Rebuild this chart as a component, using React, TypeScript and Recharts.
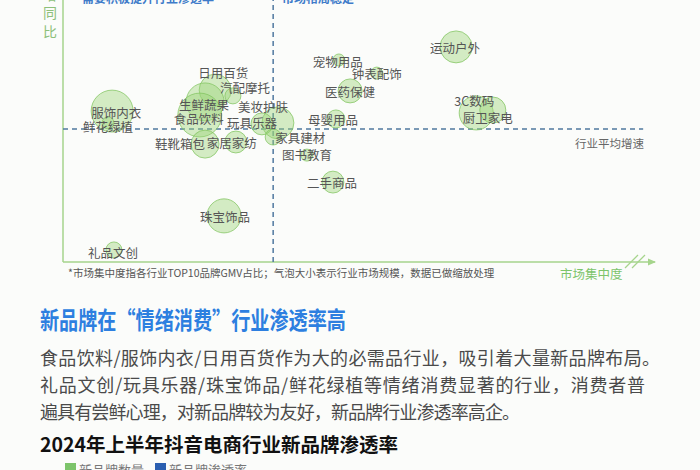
import React from 'react';
import { ScatterChart, Scatter, XAxis, YAxis, ZAxis, ReferenceLine } from 'recharts';

// ---- data ----
const categories = [
  '服饰内衣', '鲜花绿植', '日用百货', '汽配摩托', '生鲜蔬果', '食品饮料', '美妆护肤', '玩具乐器',
  '鞋靴箱包', '家居家纺', '家具建材', '图书教育', '二手商品', '珠宝饰品', '礼品文创', '宠物用品',
  '钟表配饰', '医药保健', '母婴用品', '运动户外', '3C数码', '厨卫家电',
];
// market concentration (x, index 0-100)
const concentration = [8.3, 7.6, 25.7, 28.7, 24.0, 23.1, 36.3, 33.6, 24.0, 29.2, 35.5, 41.2, 45.6, 27.2, 8.6, 46.6, 53.0, 48.5, 46.1, 66.4, 69.8, 72.6];
// growth (y, index 0-100)
const growth = [57.6, 53.1, 65.6, 63.4, 61.1, 56.1, 53.1, 52.7, 45.0, 45.8, 47.7, 40.8, 30.5, 17.6, 4.6, 77.1, 72.1, 65.3, 54.6, 82.1, 56.9, 58.0];
// market size (bubble, scaled)
const marketSize = [44, 3.6, 25.6, 6.4, 36, 48, 25.6, 12, 19.6, 12, 6.4, 3.6, 12, 29, 6.4, 3.6, 3.6, 14.4, 8.1, 25.6, 29, 17];

const avgConcentration = 35.5;
const avgGrowth = 50.8;

// label placement relative to bubble centre (px)
const labelOffset: Record<string, [number, number]> = {
  '服饰内衣': [4, 1], '鲜花绿植': [0, 4], '日用百货': [8, -18], '汽配摩托': [12, -8],
  '生鲜蔬果': [-1, 3], '食品饮料': [-1, 3], '美妆护肤': [-15, -16], '玩具乐器': [-10, -1],
  '鞋靴箱包': [-25, -1], '家居家纺': [-4, 0], '家具建材': [27, 0], '图书教育': [0, -1],
  '二手商品': [-1, 0], '珠宝饰品': [1, 1], '礼品文创': [-1, 3], '宠物用品': [-1, 2],
  '钟表配饰': [0, 0], '医药保健': [0, 1], '母婴用品': [-3, 1], '运动户外': [-1, 1],
  '3C数码': [-2, -12], '厨卫家电': [-5, 7],
};

const paragraph = [
  '食品饮料/服饰内衣/日用百货作为大的必需品行业，吸引着大量新品牌布局。',
  '礼品文创/玩具乐器/珠宝饰品/鲜花绿植等情绪消费显著的行业，消费者普',
  '遍具有尝鲜心理，对新品牌较为友好，新品牌行业渗透率高企。',
];
const paragraphWidths = [620, 605, 480];

const data = categories.map((name, i) => ({ name, x: concentration[i], y: growth[i], z: marketSize[i] }));

const FONT = '"Noto Sans CJK SC", "Noto Sans", sans-serif';
const GREEN = '#a6d58c';
const DASH = '#50789f';

const LabelShape = (props: any) => {
  const { cx, cy, payload } = props;
  const off = labelOffset[payload.name] || [0, 0];
  return (
    <text x={cx + off[0]} y={cy + off[1]} textAnchor="middle" dominantBaseline="central"
      fontSize={12.5} fill="#555" fontFamily={FONT}>{payload.name}</text>
  );
};

export default function App() {
  return (
    <div style={{ position: 'absolute', left: 0, top: 0, width: 700, height: 470, overflow: 'hidden', background: '#fbfcfa', fontFamily: FONT }}>
      <div style={{ position: 'absolute', left: 0, top: 0 }}>
        <ScatterChart width={700} height={290} margin={{ top: 0, right: 45, bottom: 28, left: 63 }}>
          <XAxis type="number" dataKey="x" domain={[0, 100]} hide />
          <YAxis type="number" dataKey="y" domain={[0, 100]} hide />
          <ZAxis type="number" dataKey="z" domain={[0, 100]} range={[0, 3141.6]} />
          <ReferenceLine x={0} stroke={GREEN} strokeWidth={1.5} />
          <ReferenceLine y={0} stroke={GREEN} strokeWidth={1.5} />
          <Scatter data={data} isAnimationActive={false} fill="rgba(155,212,118,0.42)" stroke="rgba(130,196,96,0.75)" strokeWidth={1} />
          <ReferenceLine x={avgConcentration} stroke={DASH} strokeWidth={1.5} strokeDasharray="5 4" />
          <ReferenceLine segment={[{ x: 0, y: avgGrowth }, { x: 98, y: avgGrowth }]} stroke={DASH} strokeWidth={1.5} strokeDasharray="5 4" />
          <Scatter data={data} isAnimationActive={false} shape={LabelShape} />
        </ScatterChart>
      </div>
      <svg width={700} height={470} style={{ position: 'absolute', left: 0, top: 0 }} fontFamily={FONT}>
        {/* quadrant headings (cut at top) */}
        <text x={82} y={-3} fontSize={12} fontWeight={700} fill="#3e7bc9" dominantBaseline="central">需要积极提升行业渗透率</text>
        <text x={282} y={-3} fontSize={12} fontWeight={700} fill="#3e7bc9" dominantBaseline="central">市场格局稳定</text>
        {/* y axis title */}
        <text x={50} y={-6} fontSize={14} fill="#8dc07a" textAnchor="middle" dominantBaseline="central">增</text>
        <text x={50} y={12} fontSize={14} fill="#8dc07a" textAnchor="middle" dominantBaseline="central">同</text>
        <text x={50} y={31} fontSize={14} fill="#8dc07a" textAnchor="middle" dominantBaseline="central">比</text>
        {/* x axis arrow & break */}
        <polygon points="648,258.5 656,262 648,265.5" fill={GREEN} />
        <line x1={625} y1={268} x2={638} y2={255} stroke={GREEN} strokeWidth={1.3} />
        <line x1={632} y1={268} x2={645} y2={255} stroke={GREEN} strokeWidth={1.3} />
        <text x={560} y={273} fontSize={12.5} fill="#7cc46a" dominantBaseline="central">市场集中度</text>
        <text x={575} y={143} fontSize={11.5} fill="#666" dominantBaseline="central">行业平均增速</text>
        <text x={68} y={272} fontSize={10.5} fill="#555" dominantBaseline="central">*市场集中度指各行业TOP10品牌GMV占比；气泡大小表示行业市场规模，数据已做缩放处理</text>
        {/* body text */}
        <text x={40} y={318} fontSize={24} fontWeight={700} fill="#2d7fe0" dominantBaseline="central"
          textLength={306} lengthAdjust="spacingAndGlyphs">新品牌在“情绪消费”行业渗透率高</text>
        {paragraph.map((line, i) => (
          <text key={i} x={40} y={357 + i * 27} fontSize={18} fill="#4a4a4a" dominantBaseline="central"
            textLength={paragraphWidths[i]} lengthAdjust="spacing">{line}</text>
        ))}
        <text x={40} y={443} fontSize={19.5} fontWeight={700} fill="#111" dominantBaseline="central">2024年上半年抖音电商行业新品牌渗透率</text>
        <rect x={65} y={463} width={11} height={10} fill="#7cc46a" />
        <text x={79} y={469} fontSize={13} fill="#777" dominantBaseline="central">新品牌数量</text>
        <rect x={155} y={463} width={11} height={10} fill="#2b5fb0" />
        <text x={169} y={469} fontSize={13} fill="#777" dominantBaseline="central">新品牌渗透率</text>
      </svg>
    </div>
  );
}
